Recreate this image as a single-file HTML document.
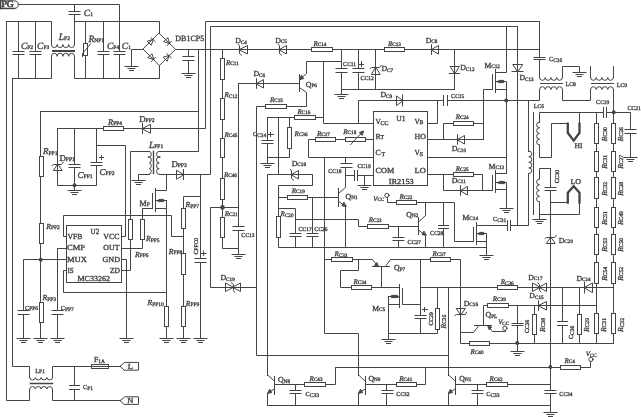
<!DOCTYPE html>
<html><head><meta charset="utf-8"><title>Circuit</title>
<style>
html,body{margin:0;padding:0;background:#fff;}
body{width:641px;height:417px;overflow:hidden;font-family:"Liberation Serif",serif;}
svg{display:block;filter:grayscale(1);}
svg text{text-rendering:geometricPrecision;font-family:"Liberation Serif",serif;fill:#404040;stroke:#404040;stroke-width:0.34px;}
</style></head><body>
<svg width="641" height="417" viewBox="0 0 641 417">
<rect x="0" y="0" width="641" height="417" fill="#fff" stroke="none"/>
<g fill="none" stroke="#444444" stroke-width="1" stroke-linecap="square" stroke-linejoin="miter">
<path d="M0.5 0.8 H14 Q18.3 0.8 18.3 4.6 Q18.3 8.4 14 8.4 H0.5 Z" fill="#fff"/>
<polyline points="0.5,0.5 0.5,8.5" stroke-width="1.6"/>
<polyline points="0.5,8.5 14.5,8.5" stroke-width="1.4"/>
<polyline points="18.5,4.5 119.5,4.5 119.5,51.5"/>
<polyline points="119.5,54.5 119.5,78.5"/>
<polyline points="114,51.5 125,51.5"/>
<polyline points="114,54.5 125,54.5"/>
<polyline points="74.5,4.5 74.5,11.5"/>
<polyline points="69,11.5 80,11.5"/>
<polyline points="69,14.5 80,14.5"/>
<polyline points="74.5,14.5 74.5,44.5"/>
<polyline points="6.5,21.5 51.5,21.5 51.5,44.5"/>
<polyline points="74.5,21.5 159.5,21.5 159.5,33.5"/>
<polyline points="12.5,78.5 51.5,78.5 51.5,56.5"/>
<polyline points="74.5,56.5 74.5,78.5 159.5,78.5 159.5,65.5"/>
<polyline points="6.5,21.5 6.5,400.5 29.5,400.5 29.5,389.5"/>
<polyline points="12.5,78.5 12.5,366.5 29.5,366.5 29.5,377.5"/>
<polyline points="18.5,21.5 18.5,51.5"/>
<polyline points="13,51.5 24,51.5"/>
<polyline points="13,54.5 24,54.5"/>
<polyline points="18.5,54.5 18.5,78.5"/>
<polyline points="35.5,21.5 35.5,51.5"/>
<polyline points="30,51.5 41,51.5"/>
<polyline points="30,54.5 41,54.5"/>
<polyline points="35.5,54.5 35.5,78.5"/>
<path d="M51.4 44.5 a2.89 3.1 0 0 0 5.78 0 a2.89 3.1 0 0 0 5.78 0 a2.89 3.1 0 0 0 5.78 0 a2.89 3.1 0 0 0 5.78 0" fill="none"/>
<polyline points="52.5,50.5 74.5,50.5"/>
<polyline points="52.5,51.5 74.5,51.5"/>
<path d="M51.4 56.3 a2.89 3.1 0 0 1 5.78 0 a2.89 3.1 0 0 1 5.78 0 a2.89 3.1 0 0 1 5.78 0 a2.89 3.1 0 0 1 5.78 0" fill="none"/>
<polyline points="85.5,21.5 85.5,43.5"/>
<rect x="83.5" y="43.5" width="4" height="12"/>
<polyline points="85.5,55.5 85.5,78.5"/>
<polyline points="82.5,56.5 82.5,53.5 90.6,44"/>
<polyline points="103.5,21.5 103.5,51.5"/>
<polyline points="98,51.5 109,51.5"/>
<polyline points="98,54.5 109,54.5"/>
<polyline points="103.5,54.5 103.5,78.5"/>
<polygon points="159.3,33.4 175.5,49.3 159.3,65.6 143.3,49.3" fill="none"/>
<polygon points="153.14,39.76 151.3,45.28 147.62,41.6" fill="none"/>
<polyline points="155.26,41.88 151.02,37.64"/>
<polygon points="169.24,43.44 163.72,41.6 167.4,37.92" fill="none"/>
<polyline points="167.12,45.56 171.36,41.32"/>
<polygon points="153.34,59.44 147.82,57.6 151.5,53.92" fill="none"/>
<polyline points="151.22,61.56 155.46,57.32"/>
<polygon points="169.04,55.76 167.2,61.28 163.52,57.6" fill="none"/>
<polyline points="171.16,57.88 166.92,53.64"/>
<polyline points="143.5,49.5 131.5,49.5 131.5,66.5"/>
<polyline points="125,66.5 138,66.5"/>
<polyline points="128,68.5 135,68.5"/>
<polyline points="129.5,70.5 133.5,70.5"/>
<polyline points="175.5,49.5 311.5,49.5"/>
<polyline points="188.5,49.5 188.5,56.5"/>
<polyline points="183,56.5 194,56.5"/>
<polyline points="183,60.5 194,60.5"/>
<polyline points="188.5,60.5 188.5,73.5"/>
<polyline points="182,73.5 195,73.5"/>
<polyline points="185,75.5 192,75.5"/>
<polyline points="186.5,77.5 190.5,77.5"/>
<polyline points="198.5,49.5 198.5,151.5 159.5,151.5"/>
<polyline points="40.5,111.5 198.5,111.5"/>
<polyline points="539.5,21.5 205.5,21.5 205.5,128.5 151.5,128.5"/>
<polyline points="517.5,26.5 210.5,26.5 210.5,174.5 183.5,174.5"/>
<polyline points="40.5,111.5 40.5,156.5"/>
<rect x="39.5" y="156.5" width="4" height="20"/>
<polyline points="40.5,176.5 40.5,223.5"/>
<rect x="39.5" y="223.5" width="4" height="20"/>
<polyline points="40.5,243.5 40.5,302.5"/>
<rect x="39.5" y="302.5" width="4" height="20"/>
<polyline points="40.5,322.5 40.5,338.5"/>
<polyline points="34,338.5 47,338.5"/>
<polyline points="37,340.5 44,340.5"/>
<polyline points="38.5,342.5 42.5,342.5"/>
<circle cx="40.75" cy="259.75" r="2" fill="#444444" stroke="none"/>
<polyline points="57.5,128.5 103.5,128.5"/>
<rect x="103.5" y="126.5" width="20" height="4"/>
<polyline points="123.5,128.5 142.5,128.5"/>
<polygon points="142.5,128.5 150.5,124.3 150.5,132.7" fill="none"/>
<polyline points="142.5,128.5 150.5,128.5"/>
<polyline points="142.5,123.5 142.5,133.5"/>
<polyline points="57.5,128.5 57.5,185.5 96.5,185.5 96.5,165.5"/>
<polyline points="96.5,162.5 96.5,128.5"/>
<polygon points="57.5,164.5 53.3,170.5 61.7,170.5" fill="none"/>
<polyline points="57.5,164.5 57.5,170.5"/>
<polyline points="52.1,165.5 53.5,164.5 61.5,164.5 63.3,162.3"/>
<polyline points="74.5,128.5 74.5,164.5"/>
<polyline points="69,164.5 80,164.5"/>
<polyline points="69,167.5 80,167.5"/>
<polyline points="74.5,167.5 74.5,190.5"/>
<polyline points="68,190.5 81,190.5"/>
<polyline points="71,192.5 78,192.5"/>
<polyline points="72.5,194.5 76.5,194.5"/>
<circle cx="74.5" cy="185.25" r="2" fill="#444444" stroke="none"/>
<polyline points="91,162.5 102,162.5"/>
<polyline points="91,165.5 102,165.5"/>
<polyline points="101.5,155.5 101.5,159.5"/>
<polyline points="99.5,157.5 103.5,157.5"/>
<polyline points="96.5,145.5 125.5,145.5 125.5,236.5 121.5,236.5"/>
<polyline points="149.5,151.5 130.5,151.5 130.5,219.5"/>
<rect x="128.5" y="219.5" width="4" height="20"/>
<polyline points="130.5,239.5 130.5,270.5 121.5,270.5"/>
<path d="M149.3 151.3 a2.1 2.88 0 0 1 0 5.75 a2.1 2.88 0 0 1 0 5.75 a2.1 2.88 0 0 1 0 5.75 a2.1 2.88 0 0 1 0 5.75" fill="none"/>
<polyline points="149.5,174.5 138.5,174.5 138.5,180.5"/>
<polyline points="132,180.5 145,180.5"/>
<polyline points="135,182.5 142,182.5"/>
<polyline points="136.5,184.5 140.5,184.5"/>
<polyline points="153.5,151.5 153.5,173.5" stroke-width="1.4"/>
<path d="M159.2 151.3 a2.7 2.9 0 0 0 0 5.8 a2.7 2.9 0 0 0 0 5.8 a2.7 2.9 0 0 0 0 5.8 a2.7 2.9 0 0 0 0 5.8" fill="none"/>
<circle cx="148.7" cy="157" r="0.9" fill="#444444" stroke="none"/>
<circle cx="159.6" cy="157" r="0.9" fill="#444444" stroke="none"/>
<polyline points="159.5,174.5 176.5,174.5"/>
<polygon points="183.5,174.5 176.5,170.3 176.5,178.7" fill="none"/>
<polyline points="183.5,174.5 176.5,174.5"/>
<polyline points="183.5,169.5 183.5,179.5"/>
<polyline points="166.5,174.5 166.5,190.5 155.5,190.5"/>
<polyline points="155.5,188.5 155.5,211.5"/>
<polyline points="152.5,193.5 152.5,208.5"/>
<polyline points="142.5,208.5 152.5,208.5"/>
<polyline points="142.5,208.5 142.5,219.5"/>
<rect x="140.5" y="219.5" width="4" height="20"/>
<polyline points="142.5,239.5 142.5,248.5 121.5,248.5"/>
<polyline points="155.5,208.5 166.5,208.5"/>
<polyline points="155.5,200.5 166.5,200.5"/>
<polygon points="157.5,200.5 159.3,199.4 163.6,199.4 163.6,201.6 159.3,201.6" fill="#444444"/>
<polyline points="166.5,200.5 166.5,306.5"/>
<rect x="164.5" y="306.5" width="4" height="20"/>
<polyline points="166.5,326.5 166.5,338.5"/>
<polyline points="160,338.5 173,338.5"/>
<polyline points="163,340.5 170,340.5"/>
<polyline points="164.5,342.5 168.5,342.5"/>
<polyline points="66.5,270.5 63.5,270.5 63.5,292.5 166.5,292.5"/>
<polyline points="66.5,236.5 63.5,236.5 63.5,215.5 171.5,215.5 171.5,236.5 183.5,236.5"/>
<polyline points="200.5,196.5 183.5,196.5 183.5,208.5"/>
<rect x="181.5" y="208.5" width="4" height="20"/>
<polyline points="183.5,228.5 183.5,253.5"/>
<rect x="181.5" y="253.5" width="4" height="21"/>
<polyline points="183.5,274.5 183.5,306.5"/>
<rect x="181.5" y="306.5" width="4" height="20"/>
<polyline points="183.5,326.5 183.5,338.5"/>
<polyline points="177,338.5 190,338.5"/>
<polyline points="180,340.5 187,340.5"/>
<polyline points="181.5,342.5 185.5,342.5"/>
<polyline points="200.5,174.5 200.5,258.5"/>
<polyline points="195,258.5 206,258.5"/>
<polyline points="195,262.5 206,262.5"/>
<polyline points="200.5,262.5 200.5,338.5"/>
<polyline points="194,338.5 207,338.5"/>
<polyline points="197,340.5 204,340.5"/>
<polyline points="198.5,342.5 202.5,342.5"/>
<polyline points="203.6,251 203.6,255.6"/>
<polyline points="201.4,253.5 205.8,253.5"/>
<rect x="66.5" y="225.5" width="55" height="57"/>
<polyline points="66.5,248.5 57.5,248.5 57.5,310.5"/>
<polyline points="52,310.5 63,310.5"/>
<polyline points="52,314.5 63,314.5"/>
<polyline points="57.5,314.5 57.5,338.5"/>
<polyline points="51,338.5 64,338.5"/>
<polyline points="54,340.5 61,340.5"/>
<polyline points="55.5,342.5 59.5,342.5"/>
<polyline points="66.5,259.5 23.5,259.5 23.5,310.5"/>
<polyline points="18,310.5 29,310.5"/>
<polyline points="18,314.5 29,314.5"/>
<polyline points="23.5,314.5 23.5,338.5"/>
<polyline points="17,338.5 30,338.5"/>
<polyline points="20,340.5 27,340.5"/>
<polyline points="21.5,342.5 25.5,342.5"/>
<polyline points="121.5,259.5 126.5,259.5 126.5,338.5"/>
<polyline points="120,338.5 133,338.5"/>
<polyline points="123,340.5 130,340.5"/>
<polyline points="124.5,342.5 128.5,342.5"/>
<path d="M29.6 377.5 a2.88 2.6 0 0 0 5.75 0 a2.88 2.6 0 0 0 5.75 0 a2.88 2.6 0 0 0 5.75 0 a2.88 2.6 0 0 0 5.75 0" fill="none"/>
<polyline points="30.5,383.5 52.5,383.5" stroke-width="1.5"/>
<path d="M29.6 389 a2.88 2.6 0 0 1 5.75 0 a2.88 2.6 0 0 1 5.75 0 a2.88 2.6 0 0 1 5.75 0 a2.88 2.6 0 0 1 5.75 0" fill="none"/>
<polyline points="52.5,377.5 52.5,366.5 91.5,366.5"/>
<rect x="91.5" y="364.5" width="17" height="4"/>
<polyline points="91.5,366.5 120.5,366.5"/>
<polygon points="120.4,366 124.7,362.4 138.5,362.4 138.5,370.2 124.7,370.2" fill="none"/>
<polyline points="52.5,389.5 52.5,400.5 120.5,400.5"/>
<polygon points="120.4,400.4 124.7,396.8 138.5,396.8 138.5,404.4 124.7,404.4" fill="none"/>
<polyline points="74.5,366.5 74.5,385.5"/>
<polyline points="69.5,385.5 79.5,385.5"/>
<polyline points="69.5,389.5 79.5,389.5"/>
<polyline points="74.5,389.5 74.5,400.5"/>
<polyline points="222.5,49.5 222.5,58.5"/>
<rect x="220.5" y="58.5" width="4" height="21"/>
<polyline points="222.5,79.5 222.5,98.5"/>
<rect x="220.5" y="98.5" width="4" height="21"/>
<polyline points="222.5,119.5 222.5,138.5"/>
<rect x="220.5" y="138.5" width="4" height="19"/>
<polyline points="222.5,157.5 222.5,178.5"/>
<rect x="220.5" y="178.5" width="4" height="21"/>
<polyline points="222.5,199.5 222.5,217.5"/>
<rect x="220.5" y="217.5" width="4" height="20"/>
<polyline points="222.5,237.5 222.5,248.5 238.5,248.5"/>
<circle cx="222.5" cy="207.4" r="2.3" fill="#444444" stroke="none"/>
<polyline points="210.5,207.5 238.5,207.5"/>
<polyline points="210.5,207.5 210.5,287.5 225.5,287.5"/>
<polygon points="225.5,283.5 225.5,291.5 233,287.5" fill="none"/>
<polygon points="240.5,283.5 240.5,291.5 233,287.5" fill="none"/>
<polyline points="225.5,287.5 240.5,287.5"/>
<polyline points="231.5,283 233.5,284.5 233.5,290.5 234.5,292"/>
<polyline points="240.5,287.5 256.5,287.5"/>
<polyline points="238.5,83.5 238.5,226.5"/>
<polyline points="233,226.5 244,226.5"/>
<polyline points="233,230.5 244,230.5"/>
<polyline points="238.5,230.5 238.5,254.5"/>
<polyline points="232,254.5 245,254.5"/>
<polyline points="235,256.5 242,256.5"/>
<polyline points="236.5,258.5 240.5,258.5"/>
<polygon points="239.5,49.5 247.5,45.5 247.5,53.5" fill="none"/>
<polyline points="239.5,49.5 247.5,49.5"/>
<polyline points="238.3,44.5 239.5,45.5 239.5,53.5 241.5,55.1"/>
<polygon points="279.5,49.5 286.5,45.5 286.5,53.5" fill="none"/>
<polyline points="279.5,49.5 286.5,49.5"/>
<polyline points="278.3,44.5 279.5,45.5 279.5,53.5 281.5,55.1"/>
<polyline points="238.5,83.5 256.5,83.5"/>
<polygon points="256.5,83.5 263.5,79.5 263.5,87.5" fill="none"/>
<polyline points="256.5,83.5 263.5,83.5"/>
<polyline points="256.5,78.7 256.5,88.3"/>
<polyline points="263.5,83.5 299.5,83.5"/>
<polyline points="299.5,74.5 299.5,91.5"/>
<polyline points="299.4,80 306.5,73.5 306.5,61.5 341.5,61.5"/>
<polyline points="299.4,87.5 306.5,92.5 306.5,106.5 286.5,106.5"/>
<rect x="265.5" y="104.5" width="21" height="4"/>
<polyline points="265.5,106.5 256.5,106.5 256.5,355.5 448.5,355.5"/>
<polygon points="299.9,79.6 303.6,78.6 301.6,75.6" fill="#444444"/>
<polyline points="323.5,61.5 323.5,123.5 373.5,123.5"/>
<rect x="311.5" y="47.5" width="21" height="4"/>
<polyline points="332.5,49.5 384.5,49.5"/>
<rect x="384.5" y="47.5" width="20" height="4"/>
<polyline points="404.5,49.5 431.5,49.5"/>
<polygon points="431.5,49.5 438.5,45.5 438.5,53.5" fill="none"/>
<polyline points="431.5,49.5 438.5,49.5"/>
<polyline points="431.5,44.7 431.5,54.3"/>
<polyline points="438.5,49.5 539.5,49.5"/>
<polyline points="454.5,49.5 454.5,66.5"/>
<polygon points="454.5,73.5 450.2,66.5 458.8,66.5" fill="none"/>
<polyline points="454.5,73.5 454.5,66.5"/>
<polyline points="449.4,73.5 459.6,73.5"/>
<polyline points="454.5,73.5 454.5,89.5"/>
<polyline points="341.5,89.5 454.5,89.5"/>
<polyline points="341.5,49.5 341.5,68.5"/>
<polyline points="336,68.5 347,68.5"/>
<polyline points="336,72.5 347,72.5"/>
<polyline points="341.5,72.5 341.5,94.5"/>
<polyline points="335,94.5 348,94.5"/>
<polyline points="338,96.5 345,96.5"/>
<polyline points="339.5,98.5 343.5,98.5"/>
<polyline points="358.5,49.5 358.5,68.5"/>
<polyline points="353,68.5 364,68.5"/>
<polyline points="353,72.5 364,72.5"/>
<polyline points="358.5,72.5 358.5,89.5"/>
<polyline points="361.5,61.5 361.5,66.5"/>
<polyline points="359.5,64.5 363.5,64.5"/>
<polyline points="375.5,49.5 375.5,67.5"/>
<polygon points="375.5,67.5 371.3,74.5 379.7,74.5" fill="none"/>
<polyline points="375.5,67.5 375.5,74.5"/>
<polyline points="370.1,68.5 371.5,67.5 379.5,67.5 381.3,65.3"/>
<polyline points="375.5,74.5 375.5,89.5"/>
<polyline points="358.5,123.5 358.5,100.5 396.5,100.5"/>
<polygon points="402.5,100.5 396.5,95.9 396.5,105.1" fill="none"/>
<polyline points="402.5,100.5 396.5,100.5"/>
<polyline points="402.5,95.1 402.5,105.9"/>
<polyline points="402.5,100.5 443.5,100.5"/>
<polyline points="443.5,95.5 443.5,105.5"/>
<polyline points="447.5,95.5 447.5,105.5"/>
<polyline points="447.5,100.5 539.5,100.5 539.5,89.5"/>
<polyline points="437.5,100.5 437.5,123.5 427.5,123.5"/>
<circle cx="506.2" cy="100.6" r="2" fill="#444444" stroke="none"/>
<polyline points="267.5,117.5 294.5,117.5"/>
<rect x="294.5" y="115.5" width="21" height="4"/>
<polyline points="315.5,117.5 323.5,117.5"/>
<polyline points="267.5,117.5 267.5,140.5"/>
<polyline points="262,140.5 273,140.5"/>
<polyline points="262,143.5 273,143.5"/>
<polyline points="267.5,143.5 267.5,163.5"/>
<polyline points="261,163.5 274,163.5"/>
<polyline points="264,165.5 271,165.5"/>
<polyline points="265.5,167.5 269.5,167.5"/>
<polyline points="270.5,132.5 270.5,136.5"/>
<polyline points="268.5,134.5 273.5,134.5"/>
<polyline points="267.5,157.5 289.5,157.5 289.5,148.5"/>
<rect x="287.5" y="127.5" width="4" height="21"/>
<polyline points="289.5,127.5 289.5,117.5"/>
<polyline points="278.5,117.5 278.5,174.5"/>
<polyline points="267.5,375.5 267.5,174.5 291.5,174.5"/>
<polygon points="291.5,174.5 298.5,170.5 298.5,178.5" fill="none"/>
<polyline points="291.5,174.5 298.5,174.5"/>
<polyline points="290.3,169.5 291.5,170.5 291.5,178.5 293.5,180.1"/>
<polyline points="298.5,174.5 312.5,174.5 312.5,185.5 278.5,185.5 278.5,216.5"/>
<rect x="276.5" y="216.5" width="4" height="21"/>
<polyline points="278.5,237.5 278.5,247.5 486.5,247.5"/>
<polyline points="278.5,197.5 287.5,197.5"/>
<rect x="287.5" y="195.5" width="20" height="4"/>
<polyline points="307.5,197.5 338.5,197.5"/>
<polyline points="278.5,208.5 295.5,208.5 295.5,233.5"/>
<polyline points="290,233.5 301,233.5"/>
<polyline points="290,236.5 301,236.5"/>
<polyline points="295.5,236.5 295.5,247.5"/>
<polyline points="312.5,197.5 312.5,233.5"/>
<polyline points="307,233.5 318,233.5"/>
<polyline points="307,236.5 318,236.5"/>
<polyline points="312.5,236.5 312.5,247.5"/>
<polyline points="295.5,219.5 358.5,219.5 358.5,226.5 367.5,226.5"/>
<rect x="367.5" y="224.5" width="21" height="4"/>
<polyline points="388.5,226.5 418.5,226.5"/>
<polyline points="373.5,139.5 365.5,139.5"/>
<rect x="345.5" y="137.5" width="20" height="4"/>
<polyline points="345.5,139.5 335.5,139.5"/>
<rect x="315.5" y="137.5" width="20" height="4"/>
<polyline points="315.5,139.5 308.5,139.5 308.5,157.5 373.5,157.5"/>
<polyline points="350.6,144.6 362.8,131.6"/>
<polygon points="363.2,131.2 359.3,132.6 361.9,135.1" fill="#444444"/>
<polyline points="324.5,157.5 324.5,333.5 358.5,333.5 358.5,375.5"/>
<polyline points="345.5,157.5 345.5,163.5"/>
<polyline points="341,163.5 352,163.5"/>
<polyline points="341,167.5 352,167.5"/>
<polyline points="345.5,167.5 345.5,187.5 338.6,193.4"/>
<polyline points="345.5,175.5 354.5,175.5"/>
<polyline points="354.5,170.5 354.5,180.5"/>
<polyline points="357.5,170.5 357.5,180.5"/>
<polyline points="357.5,175.5 373.5,175.5"/>
<polyline points="364.5,175.5 364.5,185.5"/>
<polyline points="358,185.5 371,185.5"/>
<polyline points="361,187.5 368,187.5"/>
<polyline points="362.5,189.5 366.5,189.5"/>
<polyline points="338.5,188.5 338.5,206.5"/>
<polyline points="338.6,201.3 345.5,206.5 345.5,247.5"/>
<polygon points="345.9,206.4 341.9,205.8 343.7,202.6" fill="#444444"/>
<rect x="373.5" y="111.5" width="54" height="74"/>
<polyline points="427.5,139.5 457.5,139.5"/>
<polygon points="457.5,139.5 464.5,135.5 464.5,143.5" fill="none"/>
<polyline points="457.5,139.5 464.5,139.5"/>
<polyline points="457.5,134.7 457.5,144.3"/>
<polyline points="464.5,139.5 483.5,139.5"/>
<polyline points="443.5,139.5 443.5,123.5 453.5,123.5"/>
<rect x="453.5" y="121.5" width="20" height="4"/>
<polyline points="473.5,123.5 483.5,123.5"/>
<polyline points="483.5,139.5 483.5,89.5 492.5,89.5"/>
<polyline points="427.5,157.5 506.5,157.5"/>
<polyline points="427.5,174.5 453.5,174.5"/>
<rect x="453.5" y="172.5" width="20" height="4"/>
<polyline points="473.5,174.5 482.5,174.5 482.5,190.5 492.5,190.5"/>
<polyline points="443.5,174.5 443.5,190.5 460.5,190.5"/>
<polygon points="460.5,190.5 467.5,186.5 467.5,194.5" fill="none"/>
<polyline points="460.5,190.5 467.5,190.5"/>
<polyline points="460.5,185.7 460.5,195.3"/>
<polyline points="467.5,190.5 482.5,190.5"/>
<polyline points="492.5,74.5 492.5,89.5"/>
<polyline points="495.5,69.5 495.5,92.5"/>
<polyline points="495.5,72.5 506.5,72.5 506.5,26.5"/>
<polyline points="495.5,89.5 506.5,89.5"/>
<polyline points="495.5,81.5 506.5,81.5 506.5,173.5"/>
<polygon points="497.4,81.5 499.2,80.4 503.6,80.4 503.6,82.6 499.2,82.6" fill="#444444"/>
<polyline points="492.5,175.5 492.5,190.5"/>
<polyline points="495.5,170.5 495.5,192.5"/>
<polyline points="495.5,173.5 506.5,173.5"/>
<polyline points="495.5,189.5 506.5,189.5"/>
<polyline points="495.5,182.5 506.5,182.5 506.5,208.5"/>
<polygon points="498,182.5 499.8,181.4 504.4,181.4 504.4,183.6 499.8,183.6" fill="#444444"/>
<polyline points="500,208.5 513,208.5"/>
<polyline points="503,210.5 510,210.5"/>
<polyline points="504.5,212.5 508.5,212.5"/>
<polyline points="517.5,26.5 517.5,64.5"/>
<polygon points="517.5,71.5 512.8,64.5 522.2,64.5" fill="none"/>
<polyline points="517.5,71.5 517.5,64.5"/>
<polyline points="512,71.5 523,71.5"/>
<polyline points="517.5,71.5 517.5,225.5 510.5,225.5"/>
<polyline points="539.5,21.5 539.5,57.5"/>
<polyline points="534,57.5 545,57.5"/>
<polyline points="534,59.5 545,59.5"/>
<polyline points="539.5,59.5 539.5,77.5"/>
<path d="M539.5 77.5 a2.88 3 0 0 0 5.75 0 a2.88 3 0 0 0 5.75 0 a2.88 3 0 0 0 5.75 0 a2.88 3 0 0 0 5.75 0" fill="none"/>
<polyline points="540.5,83.5 562.5,83.5"/>
<path d="M539.5 89.5 a2.88 3 0 0 1 5.75 0 a2.88 3 0 0 1 5.75 0 a2.88 3 0 0 1 5.75 0 a2.88 3 0 0 1 5.75 0" fill="none"/>
<polyline points="562.5,77.5 562.5,66.5 579.5,66.5 579.5,72.5"/>
<polyline points="573,72.5 586,72.5"/>
<polyline points="576,74.5 583,74.5"/>
<polyline points="577.5,76.5 581.5,76.5"/>
<polyline points="562.5,89.5 562.5,100.5 590.5,100.5 590.5,89.5"/>
<polyline points="590.5,66.5 590.5,77.5"/>
<polyline points="613.5,66.5 613.5,77.5"/>
<path d="M590.5 77.5 a2.88 3 0 0 0 5.75 0 a2.88 3 0 0 0 5.75 0 a2.88 3 0 0 0 5.75 0 a2.88 3 0 0 0 5.75 0" fill="none"/>
<polyline points="591.5,83.5 613.5,83.5"/>
<path d="M590.5 89.5 a2.88 3 0 0 1 5.75 0 a2.88 3 0 0 1 5.75 0 a2.88 3 0 0 1 5.75 0 a2.88 3 0 0 1 5.75 0" fill="none"/>
<polyline points="613.5,89.5 613.5,123.5"/>
<polyline points="528.5,100.5 528.5,151.5"/>
<path d="M528.8 151 a3 2.82 0 0 1 0 5.65 a3 2.82 0 0 1 0 5.65 a3 2.82 0 0 1 0 5.65 a3 2.82 0 0 1 0 5.65" fill="none"/>
<polyline points="528.5,173.5 528.5,225.5 517.5,225.5"/>
<polyline points="533.5,112.5 533.5,214.5"/>
<polyline points="539.5,122.5 539.5,112.5 603.5,112.5"/>
<polyline points="603.5,107.5 603.5,117.5"/>
<polyline points="606.5,107.5 606.5,117.5"/>
<polyline points="606.5,112.5 630.5,112.5 630.5,129.5"/>
<circle cx="613.7" cy="112.2" r="2" fill="#444444" stroke="none"/>
<polyline points="625,129.5 636,129.5"/>
<polyline points="625,133.5 636,133.5"/>
<polyline points="630.5,133.5 630.5,157.5"/>
<polyline points="624,157.5 637,157.5"/>
<polyline points="627,159.5 634,159.5"/>
<polyline points="628.5,161.5 632.5,161.5"/>
<path d="M539.5 122 a3.1 2.88 0 0 0 0 5.75 a3.1 2.88 0 0 0 0 5.75 a3.1 2.88 0 0 0 0 5.75 a3.1 2.88 0 0 0 0 5.75" fill="none"/>
<polyline points="539.5,145.5 539.5,157.5 551.5,157.5 551.5,123.5 567.5,123.5"/>
<polyline points="567.8,123.6 567.8,132.8 573.7,140.6 579.5,132.8 579.5,123.6" stroke-width="2.3"/>
<polyline points="579.5,123.5 579.5,112.5"/>
<polyline points="550.5,168.5 539.5,168.5 539.5,178.5"/>
<path d="M539.5 179 a3.1 2.88 0 0 0 0 5.75 a3.1 2.88 0 0 0 0 5.75 a3.1 2.88 0 0 0 0 5.75 a3.1 2.88 0 0 0 0 5.75" fill="none"/>
<polyline points="539.5,202.5 539.5,219.5"/>
<polyline points="533,219.5 546,219.5"/>
<polyline points="536,221.5 543,221.5"/>
<polyline points="537.5,223.5 541.5,223.5"/>
<polyline points="550.5,168.5 550.5,187.5"/>
<polyline points="545,187.5 556,187.5"/>
<polyline points="545,190.5 556,190.5"/>
<polyline points="550.5,190.5 550.5,237.5"/>
<polyline points="550.5,202.5 567.5,202.5"/>
<polyline points="567.8,202.5 567.8,192.8 573.7,186.2 579.5,192.8 579.5,202.5" stroke-width="2.3"/>
<polyline points="579.5,202.5 579.5,214.5 539.5,214.5"/>
<polygon points="550.5,237.5 546.3,243.5 554.7,243.5" fill="none"/>
<polyline points="550.5,237.5 550.5,243.5"/>
<polyline points="545.1,238.5 546.5,237.5 554.5,237.5 556.3,235.3"/>
<polyline points="550.5,243.5 550.5,390.5"/>
<polyline points="545,390.5 556,390.5"/>
<polyline points="545,393.5 556,393.5"/>
<polyline points="550.5,393.5 550.5,412.5"/>
<polyline points="544,412.5 557,412.5"/>
<polyline points="547,414.5 554,414.5"/>
<polyline points="548.5,416.5 552.5,416.5"/>
<polyline points="596.5,112.5 596.5,123.5"/>
<rect x="594.5" y="123.5" width="4" height="20"/>
<polyline points="596.5,143.5 596.5,151.5"/>
<rect x="594.5" y="151.5" width="4" height="20"/>
<polyline points="596.5,171.5 596.5,177.5"/>
<rect x="594.5" y="177.5" width="4" height="21"/>
<polyline points="596.5,198.5 596.5,207.5"/>
<rect x="594.5" y="207.5" width="4" height="20"/>
<polyline points="596.5,227.5 596.5,234.5"/>
<rect x="594.5" y="234.5" width="4" height="20"/>
<polyline points="596.5,254.5 596.5,262.5"/>
<rect x="594.5" y="262.5" width="4" height="21"/>
<polyline points="596.5,283.5 596.5,287.5"/>
<polyline points="613.5,112.5 613.5,123.5"/>
<rect x="611.5" y="123.5" width="4" height="20"/>
<polyline points="613.5,143.5 613.5,151.5"/>
<rect x="611.5" y="151.5" width="4" height="20"/>
<polyline points="613.5,171.5 613.5,177.5"/>
<rect x="611.5" y="177.5" width="4" height="21"/>
<polyline points="613.5,198.5 613.5,207.5"/>
<rect x="611.5" y="207.5" width="4" height="20"/>
<polyline points="613.5,227.5 613.5,234.5"/>
<rect x="611.5" y="234.5" width="4" height="20"/>
<polyline points="613.5,254.5 613.5,262.5"/>
<rect x="611.5" y="262.5" width="4" height="21"/>
<polyline points="613.5,283.5 613.5,287.5"/>
<polyline points="420.5,287.5 497.5,287.5"/>
<rect x="497.5" y="285.5" width="20" height="4"/>
<polyline points="517.5,287.5 532.5,287.5"/>
<polygon points="532.5,283.5 532.5,291.5 539.5,287.5" fill="none"/>
<polygon points="546.5,283.5 546.5,291.5 539.5,287.5" fill="none"/>
<polyline points="532.5,287.5 546.5,287.5"/>
<polyline points="538,283 539.5,284.5 539.5,290.5 541,292"/>
<polyline points="546.5,287.5 584.5,287.5"/>
<polygon points="584.5,287.5 592.5,282.9 592.5,292.1" fill="none"/>
<polyline points="584.5,287.5 592.5,287.5"/>
<polyline points="584.5,282.1 584.5,292.9"/>
<polyline points="592.5,287.5 613.5,287.5"/>
<polyline points="324.5,259.5 331.5,259.5"/>
<rect x="331.5" y="257.5" width="21" height="4"/>
<polyline points="352.5,259.5 372.5,259.5 378,266.6"/>
<polyline points="372.5,266.5 389.5,266.5"/>
<polygon points="378.2,266.6 374.4,265.6 376.6,262.9" fill="#444444"/>
<polyline points="385.3,266.6 390.5,259.5 430.5,259.5"/>
<rect x="430.5" y="257.5" width="20" height="4"/>
<polyline points="450.5,259.5 460.5,259.5 460.5,308.5"/>
<polyline points="358.5,259.5 358.5,270.5 340.5,270.5 340.5,287.5 351.5,287.5"/>
<rect x="351.5" y="285.5" width="20" height="4"/>
<polyline points="371.5,287.5 399.5,287.5"/>
<polyline points="381.5,266.5 381.5,287.5"/>
<polyline points="399.5,284.5 399.5,307.5"/>
<polyline points="402.5,288.5 402.5,304.5"/>
<polyline points="402.5,304.5 420.5,304.5"/>
<polyline points="388.5,304.5 399.5,304.5"/>
<polyline points="388.5,296.5 399.5,296.5"/>
<polygon points="398.6,296.5 396.8,295.4 391.4,295.4 391.4,297.6 396.8,297.6" fill="#444444"/>
<polyline points="388.5,296.5 388.5,339.5"/>
<polyline points="382,339.5 395,339.5"/>
<polyline points="385,341.5 392,341.5"/>
<polyline points="386.5,343.5 390.5,343.5"/>
<polyline points="420.5,259.5 420.5,315.5"/>
<polyline points="415,315.5 426,315.5"/>
<polyline points="415,318.5 426,318.5"/>
<polyline points="420.5,318.5 420.5,333.5"/>
<polyline points="424.5,307.5 424.5,311.5"/>
<polyline points="422.5,309.5 427.5,309.5"/>
<polyline points="388.5,333.5 437.5,333.5 437.5,329.5"/>
<rect x="435.5" y="308.5" width="4" height="21"/>
<polyline points="437.5,308.5 437.5,287.5"/>
<polyline points="448.5,287.5 448.5,375.5"/>
<polygon points="460.5,314.5 456.1,308.5 464.9,308.5" fill="none"/>
<polyline points="460.5,314.5 460.5,308.5"/>
<polyline points="454.9,315.5 456.5,314.5 465.5,314.5 466.5,312.3"/>
<polyline points="460.5,314.5 460.5,343.5 469.5,343.5"/>
<rect x="469.5" y="341.5" width="20" height="4"/>
<polyline points="489.5,343.5 613.5,343.5"/>
<polyline points="460.5,332.5 473.5,332.5 478.7,325.7"/>
<polyline points="474.5,325.5 491.5,325.5"/>
<polyline points="483.5,325.5 483.5,305.5 487.5,305.5"/>
<rect x="487.5" y="303.5" width="21" height="4"/>
<polyline points="508.5,305.5 538.5,305.5"/>
<polygon points="538.5,305.5 546.5,301.5 546.5,309.5" fill="none"/>
<polyline points="538.5,305.5 546.5,305.5"/>
<polyline points="538.5,300.7 538.5,310.3"/>
<polyline points="546.5,305.5 596.5,305.5"/>
<polyline points="488,325.7 492.5,331.5 505.5,331.5 505.5,330.5"/>
<circle cx="504.9" cy="328.3" r="2.1"/>
<polygon points="488.2,325.9 491.6,327.2 489.6,329.6" fill="#444444"/>
<circle cx="517.2" cy="343" r="2" fill="#444444" stroke="none"/>
<polyline points="517.5,305.5 517.5,323.5"/>
<polyline points="512,323.5 523,323.5"/>
<polyline points="512,325.5 523,325.5"/>
<polyline points="517.5,325.5 517.5,351.5"/>
<polyline points="511,351.5 524,351.5"/>
<polyline points="514,353.5 521,353.5"/>
<polyline points="515.5,355.5 519.5,355.5"/>
<polyline points="534.5,305.5 534.5,314.5"/>
<rect x="532.5" y="314.5" width="4" height="20"/>
<polyline points="534.5,334.5 534.5,343.5"/>
<polyline points="562.5,287.5 562.5,321.5"/>
<polyline points="557.5,321.5 567.5,321.5"/>
<polyline points="557.5,325.5 567.5,325.5"/>
<polyline points="562.5,325.5 562.5,343.5"/>
<polyline points="579.5,287.5 579.5,314.5"/>
<rect x="577.5" y="314.5" width="4" height="20"/>
<polyline points="579.5,334.5 579.5,343.5"/>
<polyline points="596.5,287.5 596.5,313.5"/>
<rect x="594.5" y="313.5" width="4" height="20"/>
<polyline points="596.5,333.5 596.5,343.5"/>
<polyline points="613.5,287.5 613.5,313.5"/>
<rect x="611.5" y="313.5" width="4" height="20"/>
<polyline points="613.5,333.5 613.5,343.5"/>
<polyline points="335.5,367.5 550.5,367.5"/>
<circle cx="550.4" cy="367" r="1.9" fill="#444444" stroke="none"/>
<polyline points="550.5,367.5 560.5,367.5"/>
<rect x="560.5" y="365.5" width="20" height="4"/>
<polyline points="580.5,367.5 590.5,367.5 590.5,361.5"/>
<circle cx="590.9" cy="359.4" r="2.1"/>
<polyline points="267.5,405.5 550.5,405.5"/>
<polyline points="274.5,376.5 274.5,394.5"/>
<polyline points="267.7,375 274.6,381.3"/>
<polyline points="274.6,388.8 267.5,393.5 267.5,405.5"/>
<polygon points="267.9,393.3 271.7,392.6 269.9,389.6" fill="#444444"/>
<polyline points="365.5,376.5 365.5,394.5"/>
<polyline points="358.6,375 365.4,381.3"/>
<polyline points="365.4,388.8 358.5,393.5 358.5,405.5"/>
<polygon points="358.8,393.3 362.6,392.6 360.8,389.6" fill="#444444"/>
<polyline points="455.5,376.5 455.5,394.5"/>
<polyline points="448.5,375 455.5,381.3"/>
<polyline points="455.5,388.8 448.5,393.5 448.5,405.5"/>
<polygon points="448.7,393.3 452.5,392.6 450.7,389.6" fill="#444444"/>
<polyline points="274.5,384.5 304.5,384.5"/>
<rect x="304.5" y="382.5" width="21" height="4"/>
<polyline points="325.5,384.5 335.5,384.5 335.5,367.5"/>
<polyline points="295.5,384.5 295.5,390.5"/>
<polyline points="290,390.5 301,390.5"/>
<polyline points="290,393.5 301,393.5"/>
<polyline points="295.5,393.5 295.5,405.5"/>
<polyline points="365.5,384.5 396.5,384.5"/>
<rect x="396.5" y="382.5" width="20" height="4"/>
<polyline points="416.5,384.5 425.5,384.5 425.5,367.5"/>
<polyline points="386.5,384.5 386.5,390.5"/>
<polyline points="382,390.5 393,390.5"/>
<polyline points="382,393.5 393,393.5"/>
<polyline points="386.5,393.5 386.5,405.5"/>
<polyline points="455.5,384.5 486.5,384.5"/>
<rect x="486.5" y="382.5" width="21" height="4"/>
<polyline points="507.5,384.5 550.5,384.5"/>
<polyline points="477.5,384.5 477.5,390.5"/>
<polyline points="472,390.5 483,390.5"/>
<polyline points="472,393.5 483,393.5"/>
<polyline points="477.5,393.5 477.5,405.5"/>
<circle cx="386.9" cy="195.4" r="2.1"/>
<polyline points="387.5,197.5 387.5,202.5 396.5,202.5"/>
<rect x="396.5" y="200.5" width="20" height="4"/>
<polyline points="416.5,202.5 454.5,202.5 454.5,241.5 473.5,241.5"/>
<polyline points="425.5,202.5 425.5,215.5 418.6,221.9"/>
<polyline points="418.5,217.5 418.5,234.5"/>
<polyline points="418.6,230 425.5,235.5 425.5,247.5"/>
<polygon points="425.9,235.2 422,234.6 423.7,231.5" fill="#444444"/>
<polyline points="443.5,202.5 443.5,225.5"/>
<polyline points="438.5,225.5 448.5,225.5"/>
<polyline points="438.5,228.5 448.5,228.5"/>
<polyline points="443.5,228.5 443.5,247.5"/>
<polyline points="398.5,226.5 398.5,237.5"/>
<polyline points="393,237.5 404,237.5"/>
<polyline points="393,240.5 404,240.5"/>
<polyline points="398.5,240.5 398.5,247.5"/>
<polyline points="473.5,227.5 473.5,241.5"/>
<polyline points="476.5,222.5 476.5,244.5"/>
<polyline points="476.5,225.5 507.5,225.5"/>
<polyline points="507.5,220.5 507.5,230.5"/>
<polyline points="510.5,220.5 510.5,230.5"/>
<polyline points="476.5,241.5 486.5,241.5"/>
<polyline points="476.5,233.5 486.5,233.5"/>
<polygon points="478.2,233.5 480,232.4 483.8,232.4 483.8,234.6 480,234.6" fill="#444444"/>
<polyline points="486.5,233.5 486.5,255.5"/>
<polyline points="480,255.5 493,255.5"/>
<polyline points="483,257.5 490,257.5"/>
<polyline points="484.5,259.5 488.5,259.5"/>
</g>
<g>
<text x="1.2" y="7.4" font-size="9.4" font-weight="bold" textLength="12.6" lengthAdjust="spacing">PG</text>
<text x="20.9" y="48.8" font-size="9.5" font-style="italic">C<tspan font-size="5.5" font-style="normal" dy="0.3">P2</tspan></text>
<text x="37.1" y="48.8" font-size="9.5" font-style="italic">C<tspan font-size="5.5" font-style="normal" dy="0.3">P3</tspan></text>
<text x="58.8" y="39.8" font-size="9.5" font-style="italic">L<tspan font-size="5.5" font-style="normal" dy="0.3">P2</tspan></text>
<text x="88.4" y="42" font-size="9.5" font-style="italic">R<tspan font-size="5.5" font-style="normal" dy="0.3">NP1</tspan></text>
<text x="107" y="48.8" font-size="9.5" font-style="italic">C<tspan font-size="5.5" font-style="normal" dy="0.3">P4</tspan></text>
<text x="121.8" y="48.8" font-size="9.5" font-style="italic">C<tspan font-size="5.5" font-style="normal" dy="0.3">1</tspan></text>
<text x="83.8" y="16" font-size="9.5" font-style="italic">C<tspan font-size="5.5" font-style="normal" dy="0.3">1</tspan></text>
<text x="175.3" y="41" font-size="8">DB1CP5</text>
<text x="226" y="64.8" font-size="7" font-style="italic">R<tspan font-size="5.2" font-style="normal" dy="0.3">C11</tspan></text>
<text x="224.5" y="97.3" font-size="7" font-style="italic">R<tspan font-size="5.2" font-style="normal" dy="0.3">C12</tspan></text>
<text x="270" y="101.8" font-size="7" font-style="italic">R<tspan font-size="5.2" font-style="normal" dy="0.3">C15</tspan></text>
<text x="235.2" y="43.4" font-size="7.8">D<tspan font-size="5.2" font-style="normal" dy="0.3">C4</tspan></text>
<text x="275.2" y="42.7" font-size="7.8">D<tspan font-size="5.2" font-style="normal" dy="0.3">C5</tspan></text>
<text x="253.45" y="76.2" font-size="7.8">D<tspan font-size="5.2" font-style="normal" dy="0.3">C6</tspan></text>
<text x="305.75" y="86.6" font-size="7.8">Q<tspan font-size="5.2" font-style="normal" dy="0.3">P6</tspan></text>
<text x="313.5" y="45.8" font-size="7" font-style="italic">R<tspan font-size="5.2" font-style="normal" dy="0.3">C14</tspan></text>
<text x="388" y="45.8" font-size="7" font-style="italic">R<tspan font-size="5.2" font-style="normal" dy="0.3">C13</tspan></text>
<text x="425.7" y="42.7" font-size="7.8">D<tspan font-size="5.2" font-style="normal" dy="0.3">C8</tspan></text>
<text x="460.2" y="70.4" font-size="7.8">D<tspan font-size="5.2" font-style="normal" dy="0.3">C12</tspan></text>
<text x="381.45" y="71.2" font-size="7.8">D<tspan font-size="5.2" font-style="normal" dy="0.3">C7</tspan></text>
<text x="343" y="65.6" font-size="6.2">C<tspan font-size="5.5" font-style="normal" dy="0.3">C11</tspan></text>
<text x="360.5" y="79.9" font-size="6.2">C<tspan font-size="5.5" font-style="normal" dy="0.3">C12</tspan></text>
<text x="380.45" y="97.4" font-size="7.8">D<tspan font-size="5.2" font-style="normal" dy="0.3">C9</tspan></text>
<text x="451" y="97.6" font-size="6.2">C<tspan font-size="5.5" font-style="normal" dy="0.3">C15</tspan></text>
<text x="484.5" y="67.8" font-size="7.6">M<tspan font-size="5.2" font-style="normal" dy="0.3">C12</tspan></text>
<text x="519.4" y="80.4" font-size="7.8">D<tspan font-size="5.2" font-style="normal" dy="0.3">C13</tspan></text>
<text x="549" y="61.4" font-size="6.2">C<tspan font-size="5.5" font-style="normal" dy="0.3">C16</tspan></text>
<text x="565.5" y="85.9" font-size="6.2">L<tspan font-size="5.5" font-style="normal" dy="0.3">C8</tspan></text>
<text x="616.7" y="86.5" font-size="6.2">L<tspan font-size="5.5" font-style="normal" dy="0.3">C9</tspan></text>
<text x="596" y="103.8" font-size="6.2">C<tspan font-size="5.5" font-style="normal" dy="0.3">C19</tspan></text>
<text x="627.4" y="109.6" font-size="6.2">C<tspan font-size="5.5" font-style="normal" dy="0.3">C21</tspan></text>
<text x="533.7" y="108.1" font-size="6.2">L<tspan font-size="5.5" font-style="normal" dy="0.3">C6</tspan></text>
<text x="43" y="154.3" font-size="9" font-style="italic">R<tspan font-size="5.6" font-style="normal" dy="0.3">PP1</tspan></text>
<text x="59.5" y="160.8" font-size="8.8">D<tspan font-size="5.6" font-style="normal" dy="0.3">PP1</tspan></text>
<text x="77.5" y="177.6" font-size="9" font-style="italic">C<tspan font-size="5.6" font-style="normal" dy="0.3">PP1</tspan></text>
<text x="99.5" y="175" font-size="9" font-style="italic">C<tspan font-size="5.6" font-style="normal" dy="0.3">PP2</tspan></text>
<text x="108" y="124.8" font-size="8.4" font-style="italic">R<tspan font-size="5.6" font-style="normal" dy="0.3">PP4</tspan></text>
<text x="139.25" y="122" font-size="8.8">D<tspan font-size="5.6" font-style="normal" dy="0.3">PP2</tspan></text>
<text x="149" y="147.8" font-size="9.4" font-style="italic">L<tspan font-size="5.6" font-style="normal" dy="0.3">PP1</tspan></text>
<text x="139.6" y="205.6" font-size="8">M<tspan font-size="5.6" font-style="normal" dy="0.3">P</tspan></text>
<text x="171.4" y="166.8" font-size="8.8">D<tspan font-size="5.6" font-style="normal" dy="0.3">PP3</tspan></text>
<text x="185.6" y="207.3" font-size="7.6" font-style="italic">R<tspan font-size="5.5" font-style="normal" dy="0.3">PP7</tspan></text>
<text x="46.25" y="228.8" font-size="7.6" font-style="italic">R<tspan font-size="5.5" font-style="normal" dy="0.3">PP2</tspan></text>
<text x="42.5" y="300.3" font-size="7.6" font-style="italic">R<tspan font-size="5.5" font-style="normal" dy="0.3">PP3</tspan></text>
<text x="25" y="309.7" font-size="6.2">C<tspan font-size="5.5" font-style="normal" dy="0.3">PP6</tspan></text>
<text x="60.75" y="310.4" font-size="6.2">C<tspan font-size="5.5" font-style="normal" dy="0.3">PP7</tspan></text>
<text x="146" y="241.3" font-size="7.6" font-style="italic">R<tspan font-size="5.5" font-style="normal" dy="0.3">PP5</tspan></text>
<text x="135" y="256.8" font-size="7.6" font-style="italic">R<tspan font-size="5.5" font-style="normal" dy="0.3">PP6</tspan></text>
<text x="168.75" y="253.8" font-size="7.6" font-style="italic">R<tspan font-size="5.5" font-style="normal" dy="0.3">PP8</tspan></text>
<text x="185.75" y="305.8" font-size="7.6" font-style="italic">R<tspan font-size="5.5" font-style="normal" dy="0.3">PP9</tspan></text>
<text x="147.5" y="305.3" font-size="7.6" font-style="italic">R<tspan font-size="5.5" font-style="normal" dy="0.3">PP10</tspan></text>
<text x="197.8" y="254.6" font-size="6.2" transform="rotate(-90 197.8 254.6)">C<tspan font-size="5.5" font-style="normal" dy="0.3">PFC0</tspan></text>
<text x="67.5" y="238.9" font-size="7.8" textLength="15" lengthAdjust="spacingAndGlyphs">VFB</text>
<text x="90.5" y="233.6" font-size="7.8" textLength="8.8" lengthAdjust="spacingAndGlyphs">U2</text>
<text x="103.25" y="238.9" font-size="7.8" textLength="16.2" lengthAdjust="spacingAndGlyphs">VCC</text>
<text x="67" y="250.2" font-size="7.8" textLength="18" lengthAdjust="spacingAndGlyphs">CMP</text>
<text x="103.25" y="250.2" font-size="7.8" textLength="16.2" lengthAdjust="spacingAndGlyphs">OUT</text>
<text x="67" y="262" font-size="7.8" textLength="20" lengthAdjust="spacingAndGlyphs">MUX</text>
<text x="102.5" y="262" font-size="7.8" textLength="17.5" lengthAdjust="spacingAndGlyphs">GND</text>
<text x="67.5" y="273.4" font-size="7.8" textLength="6.3" lengthAdjust="spacingAndGlyphs">IS</text>
<text x="110" y="273.4" font-size="7.8" textLength="10" lengthAdjust="spacingAndGlyphs">ZD</text>
<text x="77.5" y="280.8" font-size="7.6" textLength="32.5" lengthAdjust="spacingAndGlyphs">MC33262</text>
<text x="375.5" y="124.2" font-size="7.8" textLength="5.3" lengthAdjust="spacingAndGlyphs">V</text>
<text x="380.4" y="124.6" font-size="5.8" textLength="8" lengthAdjust="spacingAndGlyphs">CC</text>
<text x="396.25" y="121" font-size="7.8" textLength="9.3" lengthAdjust="spacingAndGlyphs">U1</text>
<text x="414.5" y="124" font-size="7.8" textLength="5.3" lengthAdjust="spacingAndGlyphs">V</text>
<text x="419.6" y="124.4" font-size="5.8" textLength="3.8" lengthAdjust="spacingAndGlyphs">B</text>
<text x="375.5" y="138.9" font-size="7.8" textLength="5.2" lengthAdjust="spacingAndGlyphs">R</text>
<text x="380.6" y="139.3" font-size="5.8" textLength="3.6" lengthAdjust="spacingAndGlyphs">T</text>
<text x="414.5" y="138.8" font-size="7.8" textLength="11.4" lengthAdjust="spacingAndGlyphs">HO</text>
<text x="375.5" y="155.2" font-size="7.8" textLength="5.2" lengthAdjust="spacingAndGlyphs">C</text>
<text x="381.4" y="155.6" font-size="5.8" textLength="3.6" lengthAdjust="spacingAndGlyphs">T</text>
<text x="414.5" y="155.2" font-size="7.8" textLength="5.3" lengthAdjust="spacingAndGlyphs">V</text>
<text x="419.6" y="155.6" font-size="5.8" textLength="3.6" lengthAdjust="spacingAndGlyphs">S</text>
<text x="375.5" y="173.2" font-size="7.8" textLength="18.8" lengthAdjust="spacingAndGlyphs">COM</text>
<text x="414.5" y="173.2" font-size="7.8" textLength="11.3" lengthAdjust="spacingAndGlyphs">LO</text>
<text x="388.75" y="183.9" font-size="7.6" textLength="25" lengthAdjust="spacingAndGlyphs">IR2153</text>
<text x="224.5" y="137.1" font-size="7" font-style="italic">R<tspan font-size="5.2" font-style="normal" dy="0.3">C45</tspan></text>
<text x="224" y="176.9" font-size="7" font-style="italic">R<tspan font-size="5.2" font-style="normal" dy="0.3">C46</tspan></text>
<text x="224.7" y="215.6" font-size="7" font-style="italic">R<tspan font-size="5.2" font-style="normal" dy="0.3">C21</tspan></text>
<text x="253" y="136.3" font-size="6.2">C<tspan font-size="5.5" font-style="normal" dy="0.3">C14</tspan></text>
<text x="297.5" y="113.6" font-size="7" font-style="italic">R<tspan font-size="5.2" font-style="normal" dy="0.3">C16</tspan></text>
<text x="294.6" y="135.9" font-size="7" font-style="italic">R<tspan font-size="5.2" font-style="normal" dy="0.3">C36</tspan></text>
<text x="291.7" y="165.7" font-size="7.8">D<tspan font-size="5.2" font-style="normal" dy="0.3">C18</tspan></text>
<text x="291.8" y="192.8" font-size="7" font-style="italic">R<tspan font-size="5.2" font-style="normal" dy="0.3">C19</tspan></text>
<text x="317" y="135.9" font-size="7" font-style="italic">R<tspan font-size="5.2" font-style="normal" dy="0.3">C17</tspan></text>
<text x="343.3" y="133.7" font-size="7" font-style="italic">R<tspan font-size="5.2" font-style="normal" dy="0.3">C18</tspan></text>
<text x="328.2" y="172.5" font-size="6.2">C<tspan font-size="5.5" font-style="normal" dy="0.3">C18</tspan></text>
<text x="357.4" y="167.6" font-size="6.2">C<tspan font-size="5.5" font-style="normal" dy="0.3">C19</tspan></text>
<text x="345.5" y="198.5" font-size="7.8">Q<tspan font-size="5.2" font-style="normal" dy="0.3">N1</tspan></text>
<text x="373.3" y="200.8" font-size="6.8" font-style="italic">V<tspan font-size="5" font-style="normal" dy="0.3">CC</tspan></text>
<text x="399.5" y="198.6" font-size="7" font-style="italic">R<tspan font-size="5.2" font-style="normal" dy="0.3">C22</tspan></text>
<text x="455.75" y="118.6" font-size="7" font-style="italic">R<tspan font-size="5.2" font-style="normal" dy="0.3">C24</tspan></text>
<text x="451.7" y="151.4" font-size="7.8">D<tspan font-size="5.2" font-style="normal" dy="0.3">C10</tspan></text>
<text x="455.75" y="170.6" font-size="7" font-style="italic">R<tspan font-size="5.2" font-style="normal" dy="0.3">C25</tspan></text>
<text x="451.7" y="182.6" font-size="7.8">D<tspan font-size="5.2" font-style="normal" dy="0.3">C11</tspan></text>
<text x="488.8" y="168.5" font-size="7.6">M<tspan font-size="5.2" font-style="normal" dy="0.3">C13</tspan></text>
<text x="574.6" y="148.3" font-size="7.4" textLength="8" lengthAdjust="spacingAndGlyphs">HI</text>
<text x="570.4" y="183.6" font-size="7.4" textLength="10.6" lengthAdjust="spacingAndGlyphs">LO</text>
<text x="558.6" y="183.3" font-size="6.2" transform="rotate(-90 558.6 183.3)">C<tspan font-size="5.5" font-style="normal" dy="0.3">C30</tspan></text>
<text x="606.9" y="141.2" font-size="7.6" font-style="italic" transform="rotate(-90 606.9 141.2)">R<tspan font-size="5.6" font-style="normal" dy="0.3">C30</tspan></text>
<text x="622.9" y="141.2" font-size="7.6" font-style="italic" transform="rotate(-90 622.9 141.2)">R<tspan font-size="5.6" font-style="normal" dy="0.3">C26</tspan></text>
<text x="606.9" y="168.8" font-size="7.6" font-style="italic" transform="rotate(-90 606.9 168.8)">R<tspan font-size="5.6" font-style="normal" dy="0.3">C31</tspan></text>
<text x="622.9" y="168.8" font-size="7.6" font-style="italic" transform="rotate(-90 622.9 168.8)">R<tspan font-size="5.6" font-style="normal" dy="0.3">C27</tspan></text>
<text x="606.9" y="195.8" font-size="7.6" font-style="italic" transform="rotate(-90 606.9 195.8)">R<tspan font-size="5.6" font-style="normal" dy="0.3">C32</tspan></text>
<text x="622.9" y="195.8" font-size="7.6" font-style="italic" transform="rotate(-90 622.9 195.8)">R<tspan font-size="5.6" font-style="normal" dy="0.3">C28</tspan></text>
<text x="606.9" y="225.1" font-size="7.6" font-style="italic" transform="rotate(-90 606.9 225.1)">R<tspan font-size="5.6" font-style="normal" dy="0.3">C51</tspan></text>
<text x="622.9" y="225.1" font-size="7.6" font-style="italic" transform="rotate(-90 622.9 225.1)">R<tspan font-size="5.6" font-style="normal" dy="0.3">C49</tspan></text>
<text x="606.9" y="251.8" font-size="7.6" font-style="italic" transform="rotate(-90 606.9 251.8)">R<tspan font-size="5.6" font-style="normal" dy="0.3">C53</tspan></text>
<text x="622.9" y="251.8" font-size="7.6" font-style="italic" transform="rotate(-90 622.9 251.8)">R<tspan font-size="5.6" font-style="normal" dy="0.3">C50</tspan></text>
<text x="606.9" y="280.8" font-size="7.6" font-style="italic" transform="rotate(-90 606.9 280.8)">R<tspan font-size="5.6" font-style="normal" dy="0.3">C54</tspan></text>
<text x="622.9" y="280.8" font-size="7.6" font-style="italic" transform="rotate(-90 622.9 280.8)">R<tspan font-size="5.6" font-style="normal" dy="0.3">C52</tspan></text>
<text x="280.6" y="216.3" font-size="7" font-style="italic">R<tspan font-size="5.2" font-style="normal" dy="0.3">C20</tspan></text>
<text x="298.4" y="231.1" font-size="6.2">C<tspan font-size="5.5" font-style="normal" dy="0.3">C17</tspan></text>
<text x="314.3" y="231.1" font-size="6.2">C<tspan font-size="5.5" font-style="normal" dy="0.3">C26</tspan></text>
<text x="368.7" y="221.6" font-size="7" font-style="italic">R<tspan font-size="5.2" font-style="normal" dy="0.3">C23</tspan></text>
<text x="406.25" y="217" font-size="7.8">Q<tspan font-size="5.2" font-style="normal" dy="0.3">N2</tspan></text>
<text x="430" y="234.9" font-size="6.2">C<tspan font-size="5.5" font-style="normal" dy="0.3">C28</tspan></text>
<text x="407.5" y="243.6" font-size="6.2">C<tspan font-size="5.5" font-style="normal" dy="0.3">C27</tspan></text>
<text x="462.6" y="219.8" font-size="7.6">M<tspan font-size="5.2" font-style="normal" dy="0.3">C14</tspan></text>
<text x="493" y="221.3" font-size="6.2">C<tspan font-size="5.5" font-style="normal" dy="0.3">C31</tspan></text>
<text x="334.5" y="256.3" font-size="7" font-style="italic">R<tspan font-size="5.2" font-style="normal" dy="0.3">C33</tspan></text>
<text x="394" y="270.2" font-size="7.8">Q<tspan font-size="5.2" font-style="normal" dy="0.3">P7</tspan></text>
<text x="432.6" y="255.9" font-size="7" font-style="italic">R<tspan font-size="5.2" font-style="normal" dy="0.3">C37</tspan></text>
<text x="353.5" y="284.1" font-size="7" font-style="italic">R<tspan font-size="5.2" font-style="normal" dy="0.3">C34</tspan></text>
<text x="372.2" y="310.6" font-size="7.6">M<tspan font-size="5.2" font-style="normal" dy="0.3">C5</tspan></text>
<text x="463.7" y="306" font-size="7.8">D<tspan font-size="5.2" font-style="normal" dy="0.3">C16</tspan></text>
<text x="220.45" y="280.4" font-size="7.8">D<tspan font-size="5.2" font-style="normal" dy="0.3">C19</tspan></text>
<text x="241.25" y="237.1" font-size="6.2">C<tspan font-size="5.5" font-style="normal" dy="0.3">C13</tspan></text>
<text x="558.7" y="243" font-size="7.8">D<tspan font-size="5.2" font-style="normal" dy="0.3">C20</tspan></text>
<text x="528.2" y="279.6" font-size="7.8">D<tspan font-size="5.2" font-style="normal" dy="0.3">C17</tspan></text>
<text x="529.3" y="298.4" font-size="7.8">D<tspan font-size="5.2" font-style="normal" dy="0.3">C15</tspan></text>
<text x="576.4" y="280.7" font-size="7.8">D<tspan font-size="5.2" font-style="normal" dy="0.3">C14</tspan></text>
<text x="500.7" y="284.2" font-size="7" font-style="italic">R<tspan font-size="5.2" font-style="normal" dy="0.3">C36</tspan></text>
<text x="492.8" y="300.9" font-size="7" font-style="italic">R<tspan font-size="5.2" font-style="normal" dy="0.3">C39</tspan></text>
<text x="485.6" y="317.3" font-size="7.8">Q<tspan font-size="5.2" font-style="normal" dy="0.3">PL</tspan></text>
<text x="498.2" y="324.4" font-size="6.8" font-style="italic">V<tspan font-size="5" font-style="normal" dy="0.3">CC</tspan></text>
<text x="470.6" y="353.7" font-size="7" font-style="italic">R<tspan font-size="5.2" font-style="normal" dy="0.3">C40</tspan></text>
<text x="564.4" y="362.7" font-size="7" font-style="italic">R<tspan font-size="5.2" font-style="normal" dy="0.3">C4</tspan></text>
<text x="585.8" y="356.2" font-size="6.8" font-style="italic">V<tspan font-size="5" font-style="normal" dy="0.3">CC</tspan></text>
<text x="489.6" y="380.9" font-size="7" font-style="italic">R<tspan font-size="5.2" font-style="normal" dy="0.3">C42</tspan></text>
<text x="559.3" y="395.7" font-size="6.2">C<tspan font-size="5.5" font-style="normal" dy="0.3">C34</tspan></text>
<text x="486.3" y="396.4" font-size="6.2">C<tspan font-size="5.5" font-style="normal" dy="0.3">C33</tspan></text>
<text x="278" y="382.4" font-size="7.8">Q<tspan font-size="5.2" font-style="normal" dy="0.3">N8</tspan></text>
<text x="309.6" y="380.9" font-size="7" font-style="italic">R<tspan font-size="5.2" font-style="normal" dy="0.3">C43</tspan></text>
<text x="305.6" y="396.4" font-size="6.2">C<tspan font-size="5.5" font-style="normal" dy="0.3">C33</tspan></text>
<text x="368.4" y="381" font-size="7.8">Q<tspan font-size="5.2" font-style="normal" dy="0.3">N9</tspan></text>
<text x="399.3" y="380.9" font-size="7" font-style="italic">R<tspan font-size="5.2" font-style="normal" dy="0.3">C41</tspan></text>
<text x="396.3" y="395.7" font-size="6.2">C<tspan font-size="5.5" font-style="normal" dy="0.3">C32</tspan></text>
<text x="459.3" y="381" font-size="7.8">Q<tspan font-size="5.2" font-style="normal" dy="0.3">N1</tspan></text>
<text x="432.8" y="325.6" font-size="6.2" transform="rotate(-90 432.8 325.6)">C<tspan font-size="5.5" font-style="normal" dy="0.3">C29</tspan></text>
<text x="446.2" y="328.5" font-size="7.6" font-style="italic" transform="rotate(-90 446.2 328.5)">R<tspan font-size="5.6" font-style="normal" dy="0.3">C35</tspan></text>
<text x="529" y="333.1" font-size="6.2" transform="rotate(-90 529 333.1)">C<tspan font-size="5.5" font-style="normal" dy="0.3">C26</tspan></text>
<text x="545.2" y="332" font-size="7.6" font-style="italic" transform="rotate(-90 545.2 332)">R<tspan font-size="5.6" font-style="normal" dy="0.3">C38</tspan></text>
<text x="573.4" y="339.1" font-size="6.2" transform="rotate(-90 573.4 339.1)">C<tspan font-size="5.5" font-style="normal" dy="0.3">C36</tspan></text>
<text x="588.8" y="332" font-size="7.6" font-style="italic" transform="rotate(-90 588.8 332)">R<tspan font-size="5.6" font-style="normal" dy="0.3">C29</tspan></text>
<text x="606" y="332" font-size="7.6" font-style="italic" transform="rotate(-90 606 332)">R<tspan font-size="5.6" font-style="normal" dy="0.3">C31</tspan></text>
<text x="623.4" y="332" font-size="7.6" font-style="italic" transform="rotate(-90 623.4 332)">R<tspan font-size="5.6" font-style="normal" dy="0.3">C32</tspan></text>
<text x="94" y="362.2" font-size="7.8">F<tspan font-size="5.5" font-style="normal" dy="0.3">1A</tspan></text>
<text x="35.3" y="372.9" font-size="6.2">L<tspan font-size="5.5" font-style="normal" dy="0.3">P1</tspan></text>
<text x="83" y="389.4" font-size="6.2">C<tspan font-size="5.5" font-style="normal" dy="0.3">P1</tspan></text>
<text x="127.7" y="368.8" font-size="7.8" textLength="5.2" lengthAdjust="spacingAndGlyphs">L</text>
<text x="127.2" y="402.9" font-size="7.8" textLength="6" lengthAdjust="spacingAndGlyphs">N</text>
</g>
</svg>
</body></html>
